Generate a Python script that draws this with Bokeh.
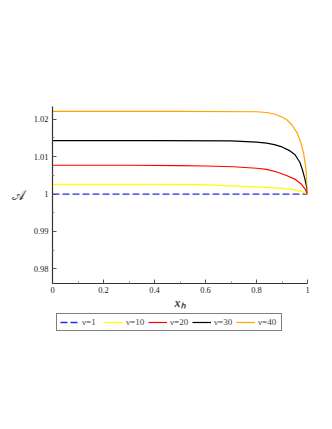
from bokeh.plotting import figure
from bokeh.models import Legend, LegendItem, FixedTicker
from bokeh.layouts import column
from bokeh.embed import file_html
from bokeh.resources import INLINE

# data
x_nu1 = [0.0, 1.0]
y_nu1 = [1.0, 1.0]

x_nu10 = [0.0, 0.2, 0.4, 0.58, 0.7, 0.84, 0.9, 0.95, 0.98, 1.0]
y_nu10 = [1.0026, 1.0026, 1.0026, 1.0025, 1.0022, 1.0018, 1.0015, 1.0011, 1.0006, 1.0]

x_nu20 = [0.0, 0.3, 0.5, 0.6, 0.71, 0.8, 0.84, 0.88, 0.92, 0.95, 0.975, 0.99, 1.0]
y_nu20 = [1.0077, 1.0077, 1.0076, 1.0075, 1.0073, 1.0069, 1.0066, 1.0059, 1.0049, 1.0040, 1.0027, 1.0014, 1.0]

x_nu30 = [0.0, 0.4, 0.7, 0.8, 0.84, 0.87, 0.9, 0.93, 0.95, 0.97, 0.98, 0.99, 0.997, 1.0]
y_nu30 = [1.0143, 1.0143, 1.0142, 1.0139, 1.0136, 1.0132, 1.0126, 1.0116, 1.0106, 1.0085, 1.0065, 1.0040, 1.0018, 1.0]

x_nu40 = [0.0, 0.5, 0.8, 0.84, 0.87, 0.9, 0.92, 0.94, 0.96, 0.975, 0.985, 0.993, 0.998, 1.0]
y_nu40 = [1.0221, 1.0221, 1.0220, 1.0218, 1.0214, 1.0206, 1.0198, 1.0184, 1.0163, 1.0135, 1.0108, 1.0072, 1.0035, 1.0]

labels = ["\u03bd=1", "\u03bd=10", "\u03bd=20", "\u03bd=30", "\u03bd=40"]
colors = ["#2a2ae6", "#ffff00", "#ff0000", "#000000", "#ffa500"]

x_ticks = [0, 0.2, 0.4, 0.6, 0.8, 1.0]
x_tick_labels = ["0", "0.2", "0.4", "0.6", "0.8", "1"]
x_minor = [0.1, 0.3, 0.5, 0.7, 0.9]
y_ticks = [0.98, 0.99, 1.0, 1.01, 1.02]
y_tick_labels = ["0.98", "0.99", "1", "1.01", "1.02"]
y_minor = [0.985, 0.995, 1.005, 1.015]

serif = "Liberation Serif"
series = [(x_nu1, y_nu1), (x_nu10, y_nu10), (x_nu20, y_nu20), (x_nu30, y_nu30), (x_nu40, y_nu40)]


def draw_series(fig):
    rs = []
    for i, (xs, ys) in enumerate(series):
        if i == 0:
            r = fig.line(xs, ys, line_color=colors[i], line_width=1.3, line_dash="7 3")
        else:
            r = fig.line(xs, ys, line_color=colors[i], line_width=1.2)
        rs.append(r)
    return rs


p = figure(frame_width=255, frame_height=177, output_backend="svg", toolbar_location=None,
           x_range=(0, 1.0), y_range=(0.9761, 1.0234),
           min_border_left=52, min_border_right=9, min_border_top=106,
           min_border_bottom=30)
p.outline_line_color = None
p.grid.visible = False
draw_series(p)

p.xaxis.ticker = FixedTicker(ticks=x_ticks, minor_ticks=x_minor)
p.yaxis.ticker = FixedTicker(ticks=y_ticks, minor_ticks=y_minor)
p.xaxis.major_label_overrides = {t: l for t, l in zip(x_ticks, x_tick_labels)}
p.yaxis.major_label_overrides = {t: l for t, l in zip(y_ticks, y_tick_labels)}

for ax in (p.xaxis[0], p.yaxis[0]):
    ax.axis_line_color = "#333333"
    ax.axis_line_width = 1.2
    ax.major_tick_line_color = "#555555"
    ax.minor_tick_line_color = "#888888"
    ax.major_tick_in = 4
    ax.major_tick_out = 0
    ax.minor_tick_in = 2
    ax.minor_tick_out = 0
    ax.major_label_text_font = serif
    ax.major_label_text_font_size = "8.5px"
    ax.major_label_text_color = "#222222"
    ax.axis_label_text_font = serif

p.xaxis.axis_label = "x\u2095"
p.xaxis.axis_label_text_font_style = "bold italic"
p.xaxis.axis_label_text_font_size = "12px"
p.xaxis.axis_label_standoff = 0
p.xaxis.major_label_standoff = 3

p.yaxis.axis_label = "\U0001D49C"
p.yaxis.axis_label_orientation = "horizontal"
p.yaxis.axis_label_text_font_style = "normal"
p.yaxis.axis_label_text_font_size = "14px"
p.yaxis.axis_label_standoff = 6
p.yaxis.major_label_standoff = 4

# separate strip that carries the legend below the chart
lf = figure(width=316, height=20, output_backend="svg", toolbar_location=None,
            x_range=(10, 11), y_range=(10, 11), min_border=0)
lf.axis.visible = False
lf.grid.visible = False
lf.outline_line_color = None
leg_renderers = draw_series(lf)

legend = Legend(items=[LegendItem(label=labels[i], renderers=[leg_renderers[i]]) for i in range(5)],
                orientation="horizontal", location=(4, 2))
legend.border_line_color = "#000000"
legend.border_line_width = 1
legend.label_text_font = serif
legend.label_text_font_size = "9px"
legend.glyph_width = 19
legend.glyph_height = 10
legend.label_standoff = 3
legend.spacing = 2
legend.padding = 3
legend.margin = 0
legend.label_height = 10
legend.background_fill_alpha = 1.0
lf.add_layout(legend, "center")

layout = column(p, lf, spacing=0)
open("out.html", "w").write(file_html(layout, INLINE))
